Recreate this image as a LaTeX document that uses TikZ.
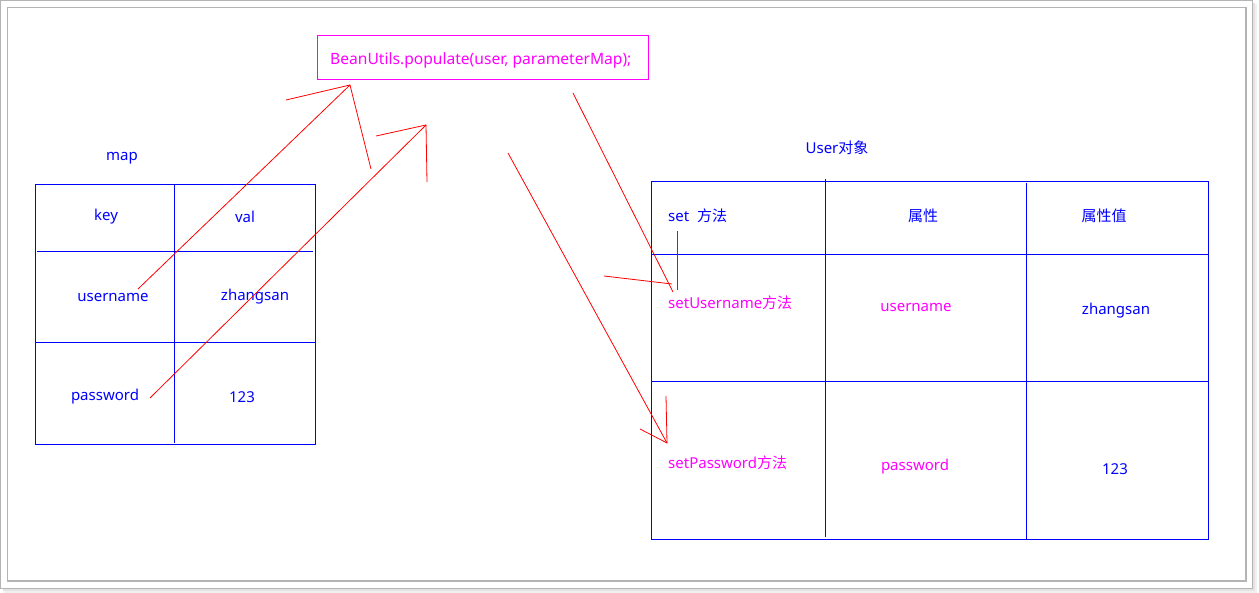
\documentclass[tikz,border=0pt]{standalone}
\usepackage{fontspec}
\setmainfont{Noto Sans}
\newfontfamily\cjk{Noto Sans CJK SC}
\definecolor{bl}{RGB}{0,0,255}
\definecolor{mg}{RGB}{255,0,255}
\definecolor{rd}{RGB}{255,0,0}
\definecolor{fr}{RGB}{180,180,180}
\begin{document}
\begin{tikzpicture}[x=1pt,y=-1pt,
  txt/.style={inner sep=0pt,font=\fontsize{15}{17}\selectfont,text=bl},
  mtxt/.style={txt,text=mg},
  grid/.style={draw=bl,line width=1pt},
  redl/.style={draw=rd,line width=0.8pt},
  frame/.style={draw=fr,line width=1.2pt}]
\useasboundingbox (0,0) rectangle (1259,593);
% shadow and frames
\fill[gray!12] (4,589) rectangle (1257,593);
\fill[gray!12] (1253,4) rectangle (1257,593);
\fill[gray!22] (3,589) rectangle (1255,591);
\fill[gray!22] (1253,3) rectangle (1255,591);
\fill[white] (0.5,0.5) rectangle (1253,589);
\draw[frame] (0.6,0.6) rectangle (1252.7,588.7);
\draw[frame] (7.3,7.3) rectangle (1246,581);

% top box
\node[draw=mg,line width=1pt,minimum width=331pt,minimum height=44pt,inner sep=0pt] (box) at (482.5,58) {};
\node[mtxt,anchor=west,font=\fontsize{15.6}{17}\selectfont] (code) at (330,60) {BeanUtils.populate(user, parameterMap);};

% left table
\node[txt] (maplbl) at (122,158) {map};
\draw[grid] (35,185) rectangle (315,445);
\draw[grid] (174,185) -- (174,443);
\draw[grid] (37,252) -- (313,252);
\draw[grid] (35,343) -- (315,343);
\node[txt] (key) at (106,217) {key};
\node[txt] (val) at (245,217) {val};
\node[txt] (un) at (113,297) {username};
\node[txt] (zs) at (255,297) {zhangsan};
\node[txt] (pw) at (105,397) {password};
\node[txt] (n123) at (242,397) {123};

% right table
\node[txt] (userlbl) at (837,148) {User{\cjk 对象}};
\draw[grid] (651,182) rectangle (1208,539);
\draw[grid] (825,179) -- (825,537);
\draw[grid] (1026,183) -- (1026,539);
\draw[grid] (651,255) -- (1208,255);
\draw[grid] (651,382) -- (1208,382);
\node[txt,anchor=west] (setm) at (668,216) {set\ \ {\cjk 方法}};
\node[txt] (attr) at (923,216) {\cjk 属性};
\node[txt] (attrv) at (1104,216) {\cjk 属性值};
\node[mtxt,anchor=west] (setu) at (668,303) {setUsername{\cjk 方法}};
\node[mtxt] (u2) at (916,307) {username};
\node[txt] (z2) at (1116,311) {zhangsan};
\node[mtxt,anchor=west] (setp) at (668,463) {setPassword{\cjk 方法}};
\node[mtxt] (p2) at (915,467) {password};
\node[txt] (r123) at (1115,469) {123};

% red hand-drawn arrows
\coordinate (a1s) at (138,289);
\coordinate (a1t) at (350,85);
\coordinate (a1h1) at (286,100);
\coordinate (a1h2) at (371,169);
\draw[redl] (a1s) -- (a1t);
\draw[redl] (a1h1) -- (a1t) -- (a1h2);

\coordinate (a2s) at (150,398);
\coordinate (a2t) at (426,125);
\coordinate (a2h1) at (376,136);
\coordinate (a2h2) at (427,182);
\draw[redl] (a2s) -- (a2t);
\draw[redl] (a2h1) -- (a2t) -- (a2h2);

\coordinate (a3s) at (573,93);
\coordinate (a3t) at (673,292);
\coordinate (a3h1) at (604,276);
\coordinate (a3h1e) at (672,284);
\coordinate (a3h2) at (677,231);
\coordinate (a3h2e) at (677,290);
\draw[redl] (a3s) -- (a3t);
\draw[redl] (a3h1) -- (a3h1e);
\draw[redl] (a3h2) -- (a3h2e);

\coordinate (a4s) at (508,153);
\coordinate (a4t) at (667,443);
\coordinate (a4h1) at (640,429);
\coordinate (a4h2) at (666,396);
\draw[redl] (a4s) -- (a4t);
\draw[redl] (a4h1) -- (a4t) -- (a4h2);
\end{tikzpicture}
\end{document}
